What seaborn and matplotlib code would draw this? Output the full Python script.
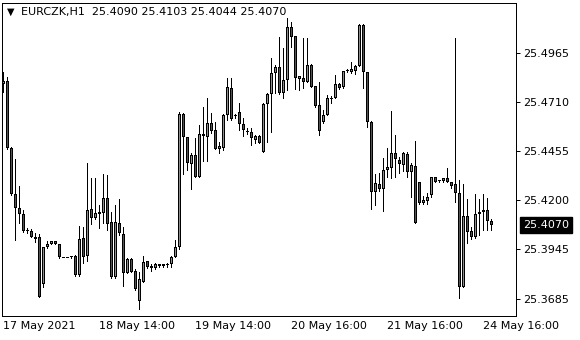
import numpy as np
import pandas as pd
import matplotlib
matplotlib.use("Agg")
import matplotlib.pyplot as plt
import seaborn as sns

symbol = "EURCZK,H1"
opens = [25.4803, 25.4820, 25.4469, 25.4230, 25.4160, 25.4126, 25.4039, 25.4037, 25.4010, 25.4006,
         25.3765, 25.3954, 25.3971, 25.3985, 25.3970, 25.3902, 25.3902, 25.3902, 25.3910, 25.3810,
         25.4002, 25.3910, 25.4152, 25.4108, 25.4129, 25.4134, 25.4209, 25.4084, 25.3801, 25.4079,
         25.4022, 25.3822, 25.3892, 25.3829, 25.3676, 25.3775, 25.3881, 25.3855, 25.3845, 25.3855,
         25.3855, 25.3866, 25.3866, 25.3905, 25.3954, 25.4647, 25.4529, 25.4386, 25.4434, 25.4321,
         25.4543, 25.4529, 25.4599, 25.4564, 25.4464, 25.4469, 25.4642, 25.4784, 25.4637, 25.4656,
         25.4595, 25.4555, 25.4552, 25.4512, 25.4533, 25.4451, 25.4698, 25.4750, 25.4859, 25.4890,
         25.4755, 25.4824, 25.5098, 25.5053, 25.4828, 25.4836, 25.4815, 25.4902, 25.4793, 25.4694,
         25.4604, 25.4642, 25.4729, 25.4729, 25.4803, 25.4786, 25.4871, 25.4867, 25.4872, 25.4897,
         25.5110, 25.4864, 25.4607, 25.4243, 25.4282, 25.4256, 25.4356, 25.4365, 25.4443, 25.4408,
         25.4382, 25.4438, 25.4347, 25.4377, 25.4292, 25.4183, 25.4196, 25.4226, 25.4318, 25.4300,
         25.4299, 25.4313, 25.4295, 25.4282, 25.4235, 25.3749, 25.4117, 25.4039, 25.4009, 25.4126,
         25.4136, 25.4148, 25.4090]
highs = [25.4867, 25.4838, 25.4475, 25.4412, 25.4273, 25.4148, 25.4054, 25.4048, 25.4028, 25.4023,
         25.3957, 25.3987, 25.3989, 25.3987, 25.3971, 25.3902, 25.3902, 25.3911, 25.3914, 25.4065,
         25.4061, 25.4391, 25.4313, 25.4314, 25.4174, 25.4335, 25.4330, 25.4139, 25.4174, 25.4205,
         25.4061, 25.3896, 25.3897, 25.3840, 25.3824, 25.3909, 25.3883, 25.3866, 25.3871, 25.3869,
         25.3869, 25.3874, 25.3909, 25.3992, 25.4656, 25.4650, 25.4530, 25.4443, 25.4524, 25.4590,
         25.4685, 25.4729, 25.4651, 25.4607, 25.4503, 25.4645, 25.4836, 25.4836, 25.4646, 25.4703,
         25.4626, 25.4576, 25.4574, 25.4538, 25.4538, 25.4703, 25.4755, 25.4937, 25.4902, 25.5049,
         25.4989, 25.5145, 25.5127, 25.5055, 25.4847, 25.5041, 25.5044, 25.4907, 25.4795, 25.4815,
         25.4668, 25.4746, 25.4743, 25.4850, 25.4806, 25.4873, 25.4880, 25.4916, 25.4902, 25.5113,
         25.5113, 25.4866, 25.4609, 25.4334, 25.4339, 25.4417, 25.4469, 25.4663, 25.4538, 25.4425,
         25.4451, 25.4451, 25.4391, 25.4507, 25.4294, 25.4221, 25.4235, 25.4320, 25.4320, 25.4304,
         25.4314, 25.4365, 25.4296, 25.5041, 25.4304, 25.4283, 25.4204, 25.4061, 25.4231, 25.4204,
         25.4231, 25.4208, 25.4103]
lows = [25.4760, 25.4465, 25.4225, 25.3992, 25.4082, 25.4035, 25.4030, 25.4006, 25.3983, 25.3694,
        25.3746, 25.3950, 25.3969, 25.3971, 25.3901, 25.3902, 25.3902, 25.3901, 25.3805, 25.3805,
        25.3874, 25.3884, 25.4074, 25.4101, 25.4054, 25.4080, 25.4044, 25.3796, 25.3796, 25.4018,
        25.3754, 25.3820, 25.3824, 25.3732, 25.3633, 25.3773, 25.3848, 25.3832, 25.3840, 25.3853,
        25.3853, 25.3853, 25.3853, 25.3905, 25.3944, 25.4335, 25.4358, 25.4256, 25.4320, 25.4320,
        25.4404, 25.4404, 25.4547, 25.4463, 25.4446, 25.4460, 25.4616, 25.4616, 25.4625, 25.4564,
        25.4534, 25.4543, 25.4486, 25.4495, 25.4495, 25.4448, 25.4503, 25.4555, 25.4755, 25.4751,
        25.4729, 25.4772, 25.4997, 25.4777, 25.4772, 25.4782, 25.4814, 25.4788, 25.4685, 25.4538,
        25.4599, 25.4640, 25.4703, 25.4728, 25.4778, 25.4782, 25.4864, 25.4862, 25.4855, 25.4894,
        25.4781, 25.4581, 25.4153, 25.4174, 25.4248, 25.4144, 25.4321, 25.4313, 25.4318, 25.4342,
        25.4352, 25.4321, 25.4217, 25.4080, 25.4181, 25.4179, 25.4179, 25.4217, 25.4294, 25.4294,
        25.4295, 25.4294, 25.4261, 25.4191, 25.3692, 25.3748, 25.3974, 25.3996, 25.4005, 25.4017,
        25.4044, 25.4046, 25.4044]
closes = [25.4820, 25.4469, 25.4230, 25.4160, 25.4126, 25.4039, 25.4040, 25.4009, 25.3999, 25.3697,
          25.3954, 25.3971, 25.3985, 25.3973, 25.3902, 25.3902, 25.3902, 25.3910, 25.3812, 25.3997,
          25.3905, 25.4146, 25.4108, 25.4131, 25.4138, 25.4209, 25.4074, 25.3801, 25.4084, 25.4027,
          25.3822, 25.3892, 25.3827, 25.3736, 25.3788, 25.3879, 25.3853, 25.3845, 25.3866, 25.3867,
          25.3867, 25.3866, 25.3905, 25.3954, 25.4647, 25.4529, 25.4391, 25.4434, 25.4321, 25.4543,
          25.4534, 25.4599, 25.4559, 25.4464, 25.4481, 25.4642, 25.4789, 25.4620, 25.4637, 25.4594,
          25.4564, 25.4555, 25.4524, 25.4533, 25.4498, 25.4698, 25.4750, 25.4859, 25.4890, 25.4755,
          25.4824, 25.5098, 25.5049, 25.4833, 25.4845, 25.4815, 25.4902, 25.4789, 25.4690, 25.4560,
          25.4642, 25.4729, 25.4729, 25.4803, 25.4781, 25.4871, 25.4871, 25.4881, 25.4897, 25.5110,
          25.4864, 25.4607, 25.4243, 25.4287, 25.4257, 25.4356, 25.4370, 25.4443, 25.4412, 25.4386,
          25.4446, 25.4343, 25.4382, 25.4082, 25.4183, 25.4200, 25.4214, 25.4318, 25.4295, 25.4300,
          25.4313, 25.4295, 25.4273, 25.4235, 25.3746, 25.4117, 25.4035, 25.4009, 25.4127, 25.4138,
          25.4148, 25.4092, 25.4070]

tick_bars = [0, 24, 48, 72, 96, 120]
tick_labels = ["17 May 2021", "18 May 14:00", "19 May 14:00",
               "20 May 16:00", "21 May 16:00", "24 May 16:00"]
price_ticks = [25.4965, 25.4710, 25.4455, 25.4200, 25.3945, 25.3685]
last_price = closes[-1]

sns.set_style("white")
plt.rcParams['font.family'] = ['DejaVu Sans']

df = pd.DataFrame({"open": opens, "high": highs, "low": lows, "close": closes})
df["bar"] = np.arange(len(df))
df["top"] = df[["open", "close"]].max(axis=1)
df["bot"] = df[["open", "close"]].min(axis=1)

W, H = 580, 340
fig = plt.figure(figsize=(W / 100, H / 100), dpi=100)
ax_h_px = 313
ax = fig.add_axes([2 / W, 1 - 316 / H, 514 / W, ax_h_px / H])
PX = 0.72  # one pixel in points

YMIN, YMAX = 25.3597, 25.5224
ax.set_xlim(-0.325, 128.2)
ax.set_ylim(YMIN, YMAX)
dy = (YMAX - YMIN) / ax_h_px  # one pixel in price units

green = "#32CD32"
red = "#E81414"
colors = np.where(df["close"] > df["open"], green,
                  np.where(df["close"] < df["open"], red, "black"))

# wicks
ax.vlines(df["bar"], df["low"], df["high"], color="black", linewidth=PX,
          zorder=2, antialiased=False)
# body outline (black, 3 px wide, at least 1 px tall)
outer_h = np.maximum(df["top"] - df["bot"], dy)
ax.bar(df["bar"], outer_h, bottom=df["bot"] - (outer_h - (df["top"] - df["bot"])) / 2,
       width=0.75, color="black", linewidth=0, zorder=3, antialiased=False)
# coloured interior
inner_h = np.clip(df["top"] - df["bot"] - 2 * dy, 0, None)
ax.bar(df["bar"], inner_h, bottom=df["bot"] + dy, width=0.25, color=colors,
       linewidth=0, zorder=4, antialiased=False)

ax.yaxis.tick_right()
ax.set_yticks(price_ticks)
ax.set_yticklabels([f"{p:.4f}" for p in price_ticks])
ax.set_xticks(tick_bars)
ax.set_xticklabels(tick_labels, ha="left")
ax.tick_params(axis="both", direction="out", length=2.9, width=PX,
               colors="black", labelsize=8)
ax.tick_params(axis="y", pad=2.2, left=False, right=True)
ax.tick_params(axis="x", pad=1.0)
for s in ax.spines.values():
    s.set_visible(True)
    s.set_color("black")
    s.set_linewidth(PX)
ax.grid(False)

# header
fig.text(10.5 / W, 1 - 12 / H, "\u25BC", fontsize=7, ha="center", va="center", color="black")
fig.text(21 / W, 1 - 12.5 / H,
         f"{symbol}  {opens[-1]:.4f} {highs[-1]:.4f} {lows[-1]:.4f} {closes[-1]:.4f}",
         fontsize=8, ha="left", va="center", color="black")

# last price label
ax.annotate(f"{last_price:.4f}", xy=(1, last_price), xycoords=ax.get_yaxis_transform(),
            xytext=(5.0, 0), textcoords="offset points", ha="left", va="center",
            fontsize=8, color="white",
            bbox=dict(boxstyle="square,pad=0.25", fc="black", ec="black"))

fig.savefig("out.png", dpi=100)
